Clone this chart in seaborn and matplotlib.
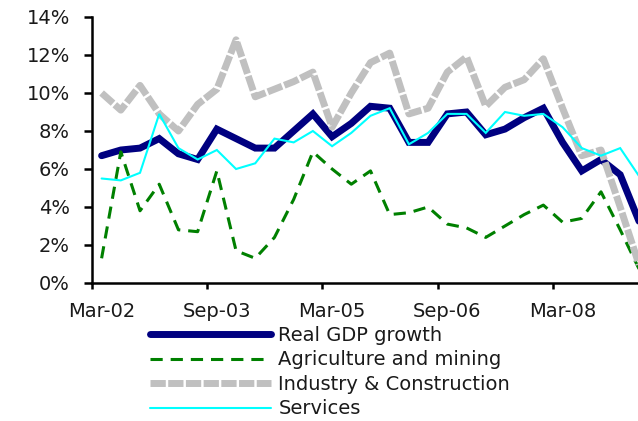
import matplotlib
matplotlib.use("Agg")
import matplotlib.pyplot as plt
import matplotlib.ticker as mticker
import seaborn as sns
import pandas as pd

# Quarterly growth, year on year (%)
quarters = ["Mar-02", "Jun-02", "Sep-02", "Dec-02",
            "Mar-03", "Jun-03", "Sep-03", "Dec-03",
            "Mar-04", "Jun-04", "Sep-04", "Dec-04",
            "Mar-05", "Jun-05", "Sep-05", "Dec-05",
            "Mar-06", "Jun-06", "Sep-06", "Dec-06",
            "Mar-07", "Jun-07", "Sep-07", "Dec-07",
            "Mar-08", "Jun-08", "Sep-08", "Dec-08",
            "Mar-09"]
gdp = [6.7, 7.0, 7.1, 7.6, 6.8, 6.5, 8.1, 7.6, 7.1, 7.1, 8.0, 8.9, 7.7, 8.4, 9.3,
       9.2, 7.4, 7.4, 8.9, 9.0, 7.8, 8.1, 8.7, 9.2, 7.4, 5.9, 6.5, 5.7, 3.2]
agriculture = [1.3, 6.9, 3.8, 5.2, 2.8, 2.7, 5.9, 1.7, 1.3, 2.4, 4.4, 6.9, 6.0, 5.2, 5.9,
               3.6, 3.7, 4.0, 3.1, 2.9, 2.4, 3.0, 3.6, 4.1, 3.2, 3.4, 4.8, 2.8, 0.7]
industry = [10.0, 9.1, 10.4, 8.9, 8.0, 9.4, 10.2, 12.8, 9.8, 10.2, 10.6, 11.1, 8.2, 10.0, 11.6,
            12.1, 8.9, 9.2, 11.1, 11.9, 9.3, 10.3, 10.7, 11.8, 9.2, 6.7, 7.0, 4.0, 0.9]
services = [5.5, 5.4, 5.8, 8.9, 7.1, 6.5, 7.0, 6.0, 6.3, 7.6, 7.4, 8.0, 7.2, 7.9, 8.8,
            9.2, 7.3, 7.9, 8.9, 8.9, 7.9, 9.0, 8.8, 8.9, 8.2, 7.1, 6.7, 7.1, 5.6]
tick_labels = ["Mar-02", "Sep-03", "Mar-05", "Sep-06", "Mar-08"]
y_ticks = [0, 2, 4, 6, 8, 10, 12, 14]

sns.set_theme(style="white")
plt.rcParams["font.family"] = ["DejaVu Sans"]

df = pd.DataFrame({"pos": range(len(quarters)), "quarter": quarters, "gdp": gdp,
                   "agriculture": agriculture, "industry": industry, "services": services})

fig = plt.figure(figsize=(6.38, 4.21), dpi=100)
ax = fig.add_axes([92 / 638, 138 / 421, 557 / 638, 266 / 421])

series = [
    ("gdp", "Real GDP growth", "#000080", 5.0, None),
    ("agriculture", "Agriculture and mining", "#008000", 2.2, (4.0, 2.6)),
    ("industry", "Industry & Construction", "#C0C0C0", 5.0, (2.2, 0.35)),
    ("services", "Services", "#00FFFF", 1.5, None),
]
for z, (col, label, color, lw, dash) in enumerate(series):
    sns.lineplot(data=df, x="pos", y=col, ax=ax, color=color, linewidth=lw,
                 label=label, zorder=2 + z)
    line = ax.lines[-1]
    line.set_solid_joinstyle("miter")
    if dash is not None:
        line.set_dashes(dash)
        line.set_dash_capstyle("butt")

ax.set_xlim(-0.5, len(quarters) - 0.5)
ax.set_ylim(0, 14)
ax.set_yticks(y_ticks)
ax.yaxis.set_major_formatter(mticker.FuncFormatter(lambda v, _: f"{v:.0f}%"))

label_pos = [quarters.index(t) for t in tick_labels]
ax.set_xticks([p - 0.5 for p in label_pos])
ax.set_xticklabels([])
ax.set_xticks(label_pos, minor=True)
ax.set_xticklabels(tick_labels, minor=True)

ax.set_xlabel("")
ax.set_ylabel("")
for side in ("top", "right"):
    ax.spines[side].set_visible(False)
for side in ("left", "bottom"):
    ax.spines[side].set_color("black")
    ax.spines[side].set_linewidth(1.8)

ax.tick_params(axis="y", which="major", direction="out", length=6, width=1.8,
               color="black", pad=10, labelsize=14, labelcolor="#1a1a1a", left=True)
ax.tick_params(axis="x", which="major", direction="out", length=4.5, width=1.8,
               color="black", bottom=True)
ax.tick_params(axis="x", which="minor", length=0, pad=14, labelsize=14,
               labelcolor="#1a1a1a", bottom=True)

handles, labels = ax.get_legend_handles_labels()
ax.legend_.remove()
fig.legend(handles, labels, loc="upper left", bbox_to_anchor=(150 / 638, 1 - 326 / 421),
           frameon=False, fontsize=14, handlelength=6.2, handletextpad=0.4,
           labelspacing=0.28, borderpad=0, borderaxespad=0, labelcolor="#1a1a1a")

fig.savefig("out.png", dpi=100)
